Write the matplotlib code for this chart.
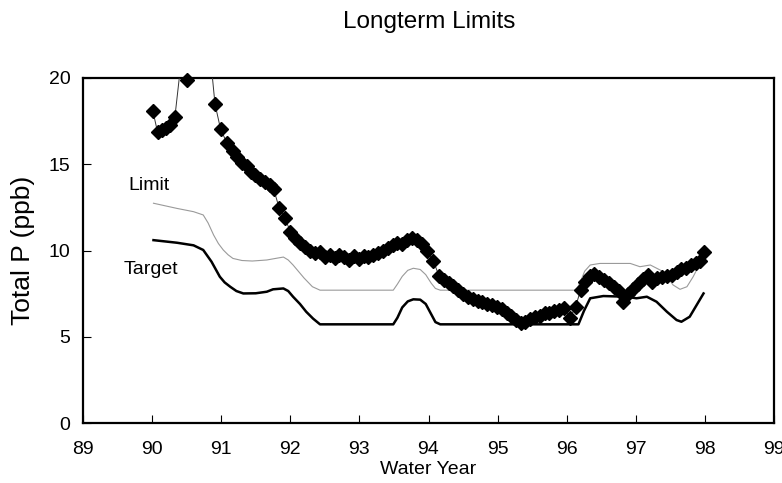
import matplotlib
matplotlib.use("Agg")
import matplotlib.pyplot as plt
import numpy as np

plt.rcParams['font.family'] = ['Liberation Sans', 'DejaVu Sans']

# Observed total P (diamonds)
obs_year = [90.01, 90.08, 90.14, 90.20, 90.26, 90.33, 90.41, 90.50, 90.58, 90.66,
            90.75, 90.83, 90.91, 90.99, 91.08, 91.17, 91.23, 91.30, 91.37, 91.43,
            91.49, 91.56, 91.63, 91.70, 91.76, 91.84, 91.92, 92.00, 92.07, 92.14,
            92.21, 92.29, 92.36, 92.43, 92.50, 92.57, 92.64, 92.71, 92.78, 92.85,
            92.92, 92.99, 93.06, 93.13, 93.20, 93.27, 93.34, 93.41, 93.48, 93.55,
            93.62, 93.69, 93.76, 93.83, 93.90, 93.98, 94.07, 94.15, 94.22, 94.29,
            94.36, 94.43, 94.50, 94.57, 94.64, 94.71, 94.78, 94.85, 94.92, 94.99,
            95.06, 95.13, 95.20, 95.27, 95.34, 95.40, 95.47, 95.54, 95.61, 95.68,
            95.75, 95.82, 95.89, 95.96, 96.05, 96.13, 96.20, 96.27, 96.34, 96.40,
            96.47, 96.54, 96.61, 96.68, 96.75, 96.82, 96.89, 96.96, 97.03, 97.10,
            97.17, 97.24, 97.31, 97.38, 97.45, 97.52, 97.59, 97.66, 97.73, 97.80,
            97.87, 97.93, 97.99]
obs_tp = [18.1, 16.85, 17.0, 17.1, 17.3, 17.75, 20.6, 19.9, 22.0, 23.5,
          23.0, 21.8, 18.5, 17.05, 16.25, 15.75, 15.4, 15.1, 14.9, 14.55,
          14.35, 14.15, 13.95, 13.8, 13.55, 12.45, 11.9, 11.1, 10.75, 10.45,
          10.2, 10.0, 9.85, 9.9, 9.6, 9.75, 9.55, 9.75, 9.6, 9.45,
          9.7, 9.5, 9.7, 9.6, 9.75, 9.85, 10.0, 10.15, 10.3, 10.45,
          10.4, 10.6, 10.75, 10.6, 10.4, 9.95, 9.4, 8.55, 8.3, 8.1,
          7.95, 7.7, 7.5, 7.3, 7.2, 7.1, 7.0, 6.9, 6.85, 6.75,
          6.6, 6.4, 6.2, 6.0, 5.8, 5.85, 6.05, 6.15, 6.2, 6.35,
          6.4, 6.5, 6.55, 6.65, 6.1, 6.75, 7.7, 8.2, 8.5, 8.65,
          8.45, 8.3, 8.1, 7.9, 7.65, 7.0, 7.45, 7.75, 8.05, 8.35,
          8.6, 8.2, 8.4, 8.45, 8.5, 8.6, 8.75, 8.9, 9.0, 9.15,
          9.25, 9.4, 9.9]

# Limit line
limit_year = [90.02, 90.36, 90.60, 90.74, 90.81, 90.89, 90.96, 91.03, 91.10, 91.17,
              91.30, 91.45, 91.66, 91.80, 91.90, 91.97, 92.04, 92.20, 92.32, 92.43,
              93.49, 93.55, 93.62, 93.70, 93.78, 93.88, 93.96, 94.04, 94.10, 94.17,
              96.14, 96.20, 96.26, 96.34, 96.48, 96.92, 97.06, 97.21, 97.40, 97.54,
              97.64, 97.74, 97.83, 97.93, 97.99]
limit_tp = [12.74, 12.44, 12.25, 12.06, 11.6, 10.9, 10.4, 10.03, 9.75, 9.54,
            9.42, 9.39, 9.45, 9.55, 9.62, 9.45, 9.16, 8.4, 7.9, 7.7,
            7.7, 8.05, 8.5, 8.85, 8.97, 8.9, 8.6, 8.1, 7.8, 7.7,
            7.7, 8.2, 8.8, 9.16, 9.25, 9.25, 9.06, 9.16, 8.77, 8.0,
            7.75, 7.9, 8.48, 9.25, 9.5]

# Target line
target_year = [90.02, 90.36, 90.60, 90.74, 90.86, 90.98, 91.05, 91.13, 91.22, 91.32,
               91.50, 91.66, 91.75, 91.90, 91.97, 92.04, 92.14, 92.23, 92.33, 92.43,
               93.49, 93.55, 93.62, 93.70, 93.78, 93.88, 93.96, 94.04, 94.10, 94.17,
               96.17, 96.25, 96.34, 96.53, 96.87, 97.01, 97.16, 97.30, 97.45, 97.59,
               97.66, 97.78, 97.98]
target_tp = [10.6, 10.45, 10.3, 10.03, 9.35, 8.48, 8.15, 7.9, 7.65, 7.51,
             7.52, 7.61, 7.75, 7.8, 7.65, 7.32, 6.9, 6.45, 6.05, 5.72,
             5.72, 6.1, 6.7, 7.05, 7.17, 7.15, 6.9, 6.3, 5.85, 5.72,
             5.72, 6.5, 7.23, 7.36, 7.32, 7.23, 7.32, 7.03, 6.45, 5.97,
             5.87, 6.16, 7.51]

x_ticks = list(range(89, 100))
y_ticks = [0, 5, 10, 15, 20]

fig = plt.figure(figsize=(7.82, 4.83), dpi=100)
ax = fig.add_axes([83 / 782, 60 / 483, 691 / 782, 345 / 483])

ax.plot(limit_year, limit_tp, color='#9a9a9a', lw=0.8, zorder=2)
ax.plot(target_year, target_tp, color='black', lw=1.8, zorder=2)
ax.plot(obs_year, obs_tp, color='#333333', lw=0.7, zorder=3)
obs_arr = np.array(obs_tp, dtype=float)
marker_y = np.where(obs_arr > 20.2, np.nan, obs_arr)
ax.plot(obs_year, marker_y, ls='none', marker='D', ms=7.5, color='black',
        clip_on=False, zorder=4)

ax.set_xlim(89, 99)
ax.set_ylim(0, 20)
ax.set_xticks(x_ticks)
ax.set_yticks(y_ticks)
ax.tick_params(direction='in', length=6, width=0.8, labelsize=14)
ax.tick_params(axis='x', pad=13)
ax.tick_params(axis='y', pad=9)
for s in ax.spines.values():
    s.set_linewidth(1.6)

ax.text(89.65, 13.74, 'Limit', fontsize=14, ha='left', va='center')
ax.text(89.59, 8.87, 'Target', fontsize=14, ha='left', va='center')

ax.set_xlabel('Water Year', fontsize=14, labelpad=2)
ax.set_ylabel('Total P (ppb)', fontsize=19, labelpad=10)
fig.text(429 / 782, 1 - 22 / 483, 'Longterm Limits', fontsize=17.5,
         ha='center', va='center')

fig.savefig('out.png', dpi=100)
